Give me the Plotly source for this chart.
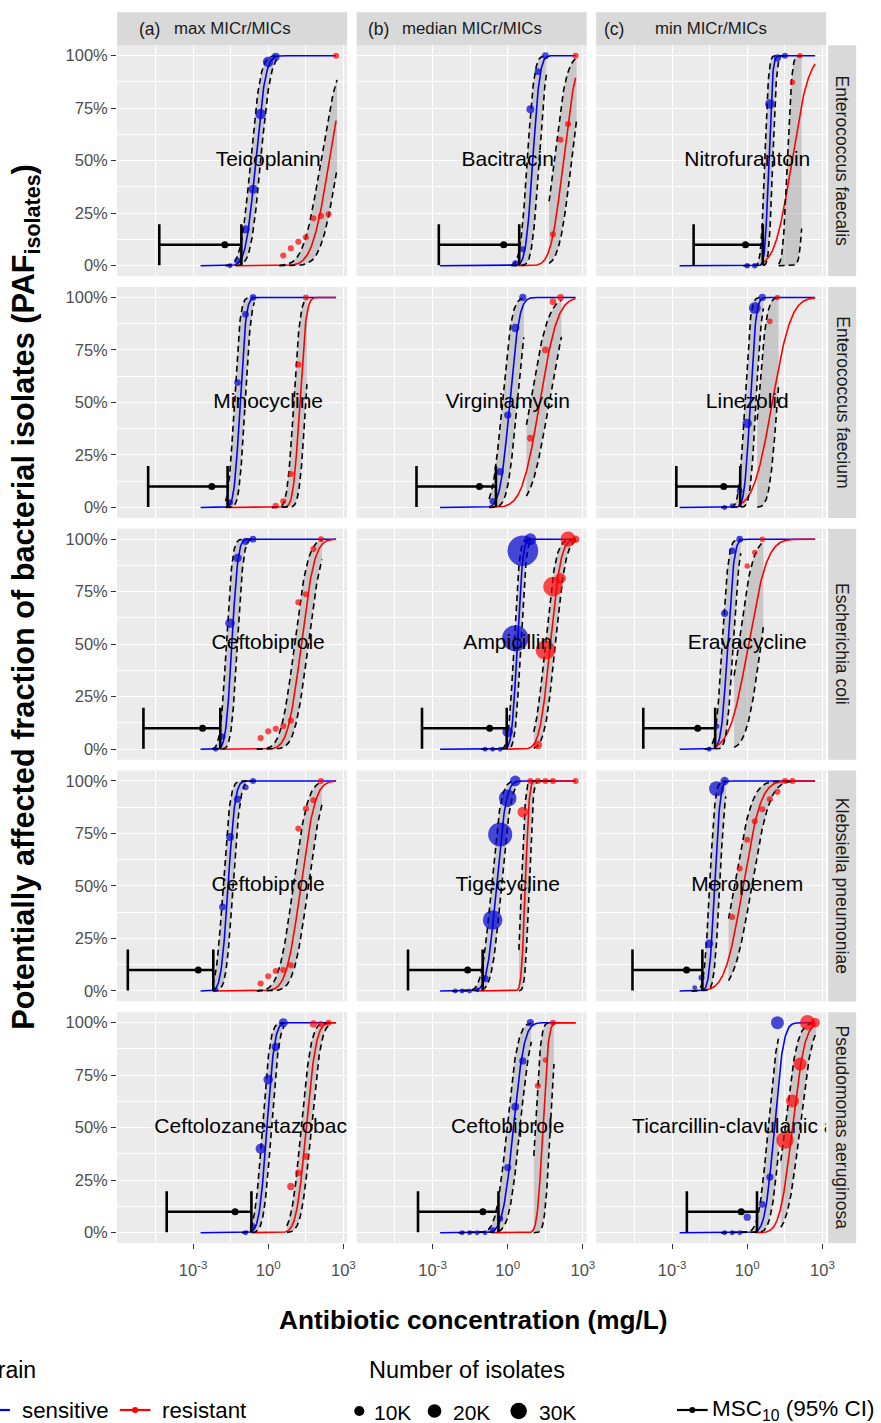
import math
import numpy as np
import plotly.graph_objects as go

W, H = 881, 1423

# ---------------- data ----------------
COL_TAGS = ["(a)", "(b)", "(c)"]
COL_TITLES = ["max MICr/MICs", "median MICr/MICs", "min MICr/MICs"]
SPECIES = ["Enterococcus faecalis", "Enterococcus faecium", "Escherichia coli",
           "Klebsiella pneumoniae", "Pseudomonas aeruginosa"]
DRUGS = ["Teicoplanin", "Bacitracin", "Nitrofurantoin",
         "Minocycline", "Virginiamycin", "Linezolid",
         "Ceftobiprole", "Ampicillin", "Eravacycline",
         "Ceftobiprole", "Tigecycline", "Meropenem",
         "Ceftolozane-tazobactam", "Ceftobiprole", "Ticarcillin-clavulanic acid"]

# MSC10 with 95% CI (mg/L)
MSC10_LO = [4.5e-5, 0.00178, 0.00724, 1.62e-5, 2.29e-4, 0.00148, 1.05e-5, 3.8e-4, 7.1e-5,
            2.5e-6, 1.05e-4, 2.63e-5, 8.9e-5, 2.63e-4, 0.00389]
MSC10 = [0.0186, 0.692, 0.851, 0.00562, 0.0741, 0.115, 0.0024, 0.19, 0.0105,
         0.00162, 0.0251, 0.0038, 0.0479, 0.102, 0.575]
MSC10_HI = [0.0851, 2.88, 4.17, 0.024, 0.339, 0.525, 0.0123, 0.912, 0.0525,
            0.00646, 0.1, 0.0162, 0.214, 0.427, 2.45]

# sensitive strains: observed MIC (mg/L), cumulative fraction, isolates (thousands)
S_MIC = [[0.03, 0.06, 0.125, 0.25, 0.5, 1, 2], [2, 4, 8, 16, 32], [1, 2, 8, 16, 32],
         [0.03, 0.06, 0.125, 0.25], [0.25, 0.5, 1, 2, 4], [0.125, 0.25, 0.5, 1, 2, 4],
         [0.008, 0.015, 0.03, 0.06, 0.125, 0.25], [0.125, 0.25, 0.5, 1, 2, 4, 8],
         [0.03, 0.06, 0.125, 0.25, 0.5],
         [0.008, 0.015, 0.03, 0.06, 0.125, 0.25],
         [0.008, 0.015, 0.03, 0.06, 0.125, 0.25, 0.5, 1, 2],
         [0.008, 0.015, 0.03, 0.06, 0.125],
         [0.125, 0.25, 0.5, 1, 2, 4], [0.015, 0.03, 0.06, 0.125, 0.25, 0.5, 1, 2, 4, 8],
         [0.125, 0.25, 0.5, 1, 4, 8, 16]]
S_PAF = [[0, 0.024, 0.173, 0.364, 0.722, 0.971, 0.995], [0.011, 0.078, 0.745, 0.924, 1.0],
         [0, 0, 0.77, 0.99, 1.0], [0.024, 0.595, 0.92, 1.0], [0.03, 0.17, 0.44, 0.855, 1.0],
         [0, 0.008, 0.078, 0.40, 0.95, 1.0], [0, 0.06, 0.60, 0.91, 0.99, 1.0],
         [0, 0, 0, 0.083, 0.528, 0.945, 1.0], [0, 0.109, 0.647, 0.945, 1.0],
         [0.006, 0.40, 0.733, 0.913, 0.97, 1.0], [0, 0, 0, 0.006, 0.059, 0.338, 0.745, 0.918, 1.0],
         [0.016, 0.063, 0.225, 0.963, 1.0], [0, 0.03, 0.40, 0.729, 0.884, 1.0],
         [0, 0, 0, 0, 0.014, 0.067, 0.31, 0.60, 0.818, 1.0], [0, 0, 0, 0.074, 0.135, 0.265, 1.0]]
S_N = [[0.7, 2.3, 6.3, 7.5, 11.4, 11.4, 5.2], [2.3, 2.3, 5.2, 3.2, 3.2], [1.5, 1.5, 8.7, 4.1, 2.3],
       [2.3, 3.2, 3.2, 3.2], [2.3, 4.1, 4.1, 6.3, 4.1], [0.7, 0.7, 2.3, 8.7, 14.4, 4.1],
       [0.7, 2.3, 8.7, 6.3, 4.1, 3.2], [0.7, 0.7, 0.7, 11.4, 79, 109, 14.4],
       [0.7, 1.5, 4.1, 3.2, 3.2], [0.7, 3.2, 5.2, 4.1, 2.3, 2.3],
       [0.7, 0.7, 0.7, 0.7, 4.1, 43, 66, 34, 11.4], [0.7, 2.3, 6.3, 25, 6.3],
       [0.7, 2.3, 10, 8.7, 6.3, 7.5], [0.7, 0.7, 0.7, 0.7, 1.5, 2.3, 4.1, 5.2, 4.1, 4.1],
       [0.7, 0.7, 0.7, 4.1, 3.2, 4.1, 17.7]]

# resistant strains
R_MIC = [[4, 8, 16, 32, 64, 128, 256, 512], [64, 128, 256, 512], [64, 128],
         [2, 4, 8, 16, 32], [8, 32, 64, 128], [8, 16],
         [0.5, 1, 2, 4, 8, 16, 32, 64, 128], [16, 32, 64, 128, 256, 512], [1, 2, 4],
         [0.5, 1, 2, 4, 8, 16, 32, 64, 128], [4, 8, 16, 32, 64, 512],
         [0.25, 0.5, 1, 2, 4, 8, 16, 32, 64],
         [8, 16, 32, 64, 128, 256], [16, 32, 64], [32, 64, 128, 256, 512]]
R_PAF = [[0.048, 0.083, 0.114, 0.135, 0.226, 0.237, 0.245, 1.0], [0.15, 0.60, 0.675, 1.0],
         [0.873, 1.0], [0.008, 0.029, 0.159, 0.68, 1.0], [0.33, 0.75, 0.98, 1.0], [0.886, 1.0],
         [0.053, 0.085, 0.097, 0.11, 0.136, 0.70, 0.738, 0.953, 1.0],
         [0.02, 0.472, 0.774, 0.814, 1.0, 1.0], [0.872, 0.937, 1.0],
         [0.035, 0.07, 0.095, 0.10, 0.122, 0.773, 0.868, 0.908, 1.0],
         [0.852, 1, 1, 1, 1, 1], [0.352, 0.583, 0.72, 0.808, 0.865, 0.913, 0.948, 1.0, 1.0],
         [0.22, 0.285, 0.363, 0.994, 0.994, 1.0], [0.70, 0.822, 1.0], [0.441, 0.627, 0.803, 1.0, 1.0]]
R_N = [[2.3] * 8, [2.3] * 4, [1.5] * 2, [2.3] * 5, [3.2] * 4, [1.5] * 2, [2.3] * 9,
       [6.3, 43, 43, 11.4, 25, 4.1], [1.5] * 3, [2.3] * 9, [11.4, 2.3, 2.3, 2.3, 2.3, 2.3],
       [2.3] * 9, [4.1, 3.2, 3.2, 4.1, 2.3, 2.3], [2.3, 1.5, 2.3], [33.7, 17.7, 17.7, 25, 8.7]]

# fitted log-normal distributions (log10 median, log10 sd) and CI bounds (log10 medians)
S_MU = [-0.50, 1.0, 0.86, -1.12, 0.08, 0.12, -1.45, 0.38, -0.78, -1.6, -0.45, -1.3, -0.05, 0.23, 1.08]
S_SD = [0.31, 0.22, 0.12, 0.185, 0.30, 0.18, 0.19, 0.17, 0.20, 0.22, 0.30, 0.17, 0.24, 0.34, 0.29]
S_CI_LO = [-0.70, 0.78, 0.70, -1.35, -0.22, -0.10, -1.67, 0.25, -1.0, -1.8, -0.65, -1.5, -0.23, -0.03, 0.83]
S_CI_HI = [-0.30, 1.25, 1.02, -0.92, 0.38, 0.35, -1.23, 0.52, -0.56, -1.4, -0.25, -1.1, 0.13, 0.49, 1.33]
R_MU = [2.44, 2.22, 1.78, 1.26, 1.28, 1.0, 1.32, 1.70, 0.05, 1.3, 0.7, -0.17, 1.52, 1.4, 1.8]
R_SD = [0.54, 0.39, 0.53, 0.20, 0.56, 0.59, 0.42, 0.33, 0.59, 0.45, 0.12, 0.56, 0.31, 0.17, 0.39]
R_CI_LO = [2.1, 1.85, 1.6, 1.02, 0.9, 0.45, 1.05, 1.5, -0.35, 1.0, 0.55, -0.52, 1.32, 1.1, 1.5]
R_CI_HI = [2.8, 2.55, 2.3, 1.5, 1.65, 1.2, 1.6, 1.9, 0.55, 1.6, 0.85, 0.18, 1.72, 1.7, 2.1]
# CI band sd and range (mg/L)
S_CI_SD = S_SD
R_CI_SD = [0.54, 0.39, 0.14, 0.20, 0.56, 0.25, 0.42, 0.33, 0.45, 0.45, 0.12, 0.56, 0.31, 0.17, 0.39]
S_CI_FROM = [0.02, 1.4, 0.7, 0.02, 0.18, 0.09, 0.006, 0.09, 0.02, 0.006, 0.006, 0.006, 0.09, 0.011, 0.09]
S_CI_TO = [2.2, 35, 35, 0.28, 4.4, 4.4, 0.28, 8.8, 0.55, 0.28, 2.2, 0.14, 4.4, 8.8, 17.6]
R_CI_FROM = [2.8, 45, 18, 1.4, 5.6, 2.5, 0.35, 11, 0.3, 0.35, 2.8, 0.18, 5.6, 11, 22]
R_CI_TO = [560, 560, 148, 35, 140, 17.6, 140, 560, 4.4, 140, 70, 70, 280, 70, 560]

CURVE_TO = 512                     # upper end of fitted curves (mg/L)
S_CURVE_FROM = 0.002               # lower end of the sensitive curves (mg/L)
X_TICKS = [1e-3, 1, 1e3]
X_TICKTEXT = ["10<sup>-3</sup>", "10<sup>0</sup>", "10<sup>3</sup>"]
X_MINOR = [10 ** -4.5, 10 ** -1.5, 10 ** 1.5]
Y_TICKS = [0, 0.25, 0.5, 0.75, 1]
Y_TICKTEXT = ["0%", "25%", "50%", "75%", "100%"]
LEGEND_SIZES = [10, 20, 30]
LEGEND_SIZE_TEXT = ["10K", "20K", "30K"]

# ---------------- styling ----------------
FONT = "Liberation Sans, Arial, sans-serif"
BLUE_LINE, BLUE_PT = "#0000FF", "#0000CD"
RED_LINE, RED_PT = "#FF0000", "#FF0000"
BAND = "rgba(150,150,150,0.42)"


def size_px(n):
    return math.sqrt(18 + 8.5 * n)


def ncdf(x, mu, sd):
    return np.array([0.5 * (1 + math.erf((math.log10(v) - mu) / (sd * math.sqrt(2)))) for v in x])


PX_COL0, COL_STEP, COL_W = 118.3, 242.0, 232.4
PX_ROW0, ROW_STEP, ROW_H = 45.2, 241.75, 231.0


def px2x(p):
    return p / W


def px2y(p):
    return 1 - p / H


fig = go.Figure()
layout = dict(width=W, height=H, margin=dict(l=0, r=0, t=0, b=0), paper_bgcolor="white",
              plot_bgcolor="#EBEBEB", showlegend=False, font=dict(family=FONT, color="black"))
shapes, annotations = [], []

for r in range(5):
    for c in range(3):
        i = r * 3 + c
        k = i + 1
        xs = "x" if k == 1 else f"x{k}"
        ys = "y" if k == 1 else f"y{k}"
        xl = PX_COL0 + COL_STEP * c
        yt = PX_ROW0 + ROW_STEP * r
        layout["xaxis" if k == 1 else f"xaxis{k}"] = dict(
            domain=[px2x(xl), px2x(xl + COL_W)], anchor=ys, type="log", range=[-6.03, 3.15],
            tickmode="array", tickvals=X_TICKS, ticktext=X_TICKTEXT, showticklabels=(r == 4),
            ticks="outside" if r == 4 else "", ticklen=5, tickwidth=1.1, tickcolor="#333333",
            ticklabelstandoff=7,
            tickfont=dict(size=16.5, color="#4D4D4D", family=FONT),
            showgrid=True, gridcolor="white", gridwidth=1.1, zeroline=False, showline=False,
            minor=dict(tickmode="array", tickvals=X_MINOR, showgrid=True, gridcolor="white",
                       gridwidth=0.55, ticks=""))
        layout["yaxis" if k == 1 else f"yaxis{k}"] = dict(
            domain=[px2y(yt + ROW_H), px2y(yt)], anchor=xs, range=[-0.05, 1.05],
            tickmode="array", tickvals=Y_TICKS, ticktext=Y_TICKTEXT, showticklabels=(c == 0),
            ticks="outside" if c == 0 else "", ticklen=5, tickwidth=1.1, tickcolor="#333333",
            tickfont=dict(size=16.5, color="#4D4D4D", family=FONT),
            showgrid=True, gridcolor="white", gridwidth=1.1, zeroline=False, showline=False,
            minor=dict(tickmode="array", tickvals=[0.125, 0.375, 0.625, 0.875], showgrid=True,
                       gridcolor="white", gridwidth=0.55, ticks=""))

        # curve ranges: sensitive from S_CURVE_FROM, resistant from where sensitive starts rising
        r_from = 10 ** (S_MU[i] - 2.6 * S_SD[i])
        strains = [
            (S_MIC[i], S_PAF[i], S_N[i], S_MU[i], S_SD[i], S_CI_LO[i], S_CI_HI[i], S_CI_SD[i],
             S_CI_FROM[i], S_CI_TO[i], S_CURVE_FROM, BLUE_LINE, BLUE_PT),
            (R_MIC[i], R_PAF[i], R_N[i], R_MU[i], R_SD[i], R_CI_LO[i], R_CI_HI[i], R_CI_SD[i],
             R_CI_FROM[i], R_CI_TO[i], r_from, RED_LINE, RED_PT),
        ]
        ci_data = []
        for mic, paf, n, mu, sd, clo, chi, csd, cfrom, cto, cf, lc, pc in strains:
            xc = np.logspace(math.log10(cfrom), math.log10(cto), 150)
            upper = ncdf(xc, clo, csd)
            lower = ncdf(xc, chi, csd)
            ci_data.append((xc, upper, lower))
            fig.add_trace(go.Scatter(x=np.concatenate([xc, xc[::-1]]),
                                     y=np.concatenate([upper, lower[::-1]]),
                                     fill="toself", fillcolor=BAND, line=dict(width=0),
                                     mode="lines", hoverinfo="skip", xaxis=xs, yaxis=ys))
        for mic, paf, n, mu, sd, clo, chi, csd, cfrom, cto, cf, lc, pc in strains:
            xg = np.logspace(math.log10(cf), math.log10(CURVE_TO), 300)
            fig.add_trace(go.Scatter(x=xg, y=ncdf(xg, mu, sd), mode="lines",
                                     line=dict(color=lc, width=1.6), xaxis=xs, yaxis=ys))
        for xc, upper, lower in ci_data:
            for yy in (upper, lower):
                fig.add_trace(go.Scatter(x=xc, y=yy, mode="lines",
                                         line=dict(color="black", width=1.6, dash="6px,4px"),
                                         xaxis=xs, yaxis=ys))
        for mic, paf, n, mu, sd, clo, chi, csd, cfrom, cto, cf, lc, pc in strains:
            fig.add_trace(go.Scatter(x=mic, y=paf, mode="markers",
                                     marker=dict(color=pc, size=[size_px(v) for v in n], line=dict(width=0)),
                                     xaxis=xs, yaxis=ys))
        fig.add_trace(go.Scatter(x=[MSC10[i]], y=[0.1], mode="markers",
                                 marker=dict(color="black", size=7),
                                 error_x=dict(type="data", symmetric=False,
                                              array=[MSC10_HI[i] - MSC10[i]],
                                              arrayminus=[MSC10[i] - MSC10_LO[i]],
                                              color="black", thickness=2.6, width=20.5),
                                 xaxis=xs, yaxis=ys))
        fig.add_trace(go.Scatter(x=[1], y=[0.5], mode="text", text=[DRUGS[i]],
                                 textposition="middle center", cliponaxis=True,
                                 textfont=dict(size=21, color="black", family=FONT),
                                 xaxis=xs, yaxis=ys))

# strips
for c in range(3):
    xl = PX_COL0 + COL_STEP * c
    shapes.append(dict(type="rect", xref="paper", yref="paper", x0=px2x(xl), x1=px2x(xl + COL_W),
                       y0=px2y(45.2), y1=px2y(12.3), fillcolor="#D9D9D9", line=dict(width=0), layer="below"))
    annotations.append(dict(xref="paper", yref="paper", x=px2x(xl + COL_W / 2), y=px2y(28.7),
                            text=COL_TITLES[c], showarrow=False, xanchor="center", yanchor="middle",
                            font=dict(size=16.8, color="#1A1A1A", family=FONT)))
tag_px = [138, 370, 608]
for c in range(3):
    annotations.append(dict(xref="paper", yref="paper", x=px2x(tag_px[c]), y=px2y(28.7),
                            text=COL_TAGS[c], showarrow=False, xanchor="left", yanchor="middle",
                            font=dict(size=17.5, color="#1A1A1A", family=FONT)))
for r in range(5):
    yt = PX_ROW0 + ROW_STEP * r
    shapes.append(dict(type="rect", xref="paper", yref="paper", x0=px2x(836.7), x1=px2x(865),
                       y0=px2y(yt + ROW_H), y1=px2y(yt), fillcolor="#D9D9D9", line=dict(width=0), layer="below"))
    annotations.append(dict(xref="paper", yref="paper", x=px2x(850.8), y=px2y(yt + ROW_H / 2),
                            text=SPECIES[r], showarrow=False, textangle=90, xanchor="center", yanchor="middle",
                            font=dict(size=17.5, color="#1A1A1A", family=FONT)))

# axis titles
annotations.append(dict(xref="paper", yref="paper", x=px2x(478), y=px2y(1320),
                        text="<b>Antibiotic concentration (mg/L)</b>", showarrow=False,
                        xanchor="center", yanchor="middle", font=dict(size=26.2, color="black", family=FONT)))
annotations.append(dict(xref="paper", yref="paper", x=px2x(25), y=px2y(597),
                        text="<b>Potentially affected fraction of bacterial isolates (PAF<sub>isolates</sub>)</b>",
                        showarrow=False, textangle=-90, xanchor="center", yanchor="middle",
                        font=dict(size=30.7, color="black", family=FONT)))

# legend glyphs (paper-anchored, pixel-sized)
LEG_Y = 1410


def hline(x0, x1, y, color, w=2.2):
    shapes.append(dict(type="line", xref="paper", yref="paper", x0=px2x(x0), x1=px2x(x1),
                       y0=px2y(y), y1=px2y(y), line=dict(color=color, width=w)))


def dot(cx, cy, d, color):
    rr = d / 2
    shapes.append(dict(type="circle", xref="paper", yref="paper", xsizemode="pixel", ysizemode="pixel",
                       xanchor=px2x(cx), yanchor=px2y(cy), x0=-rr, x1=rr, y0=-rr, y1=rr,
                       fillcolor=color, line=dict(width=0)))


hline(-22, 10, LEG_Y, BLUE_LINE)
hline(121, 152, LEG_Y, RED_LINE)
dot(136.5, LEG_Y, 6, RED_PT)
for cx, v in zip([363, 439, 524], LEGEND_SIZES):
    dot(cx, LEG_Y + 1, size_px(v), "black")
hline(684, 715, LEG_Y, "black")
dot(699.5, LEG_Y, 6, "black")


def leg_text(x, y, t, size=20, anchor="left"):
    annotations.append(dict(xref="paper", yref="paper", x=px2x(x), y=px2y(y), text=t, showarrow=False,
                            xanchor=anchor, yanchor="middle", font=dict(size=size, color="black", family=FONT)))


leg_text(38, 1370, "Strain", 23, "right")
leg_text(20, LEG_Y, "sensitive", 22.3)
leg_text(162, LEG_Y, "resistant", 22.3)
leg_text(472, 1370, "Number of isolates", 23.5, "center")
for x, t in zip([376, 456, 543], LEGEND_SIZE_TEXT):
    leg_text(x, LEG_Y + 2, t, 21)
leg_text(717, LEG_Y, "MSC<sub>10</sub> (95% CI)", 22.5)

layout["shapes"] = shapes
layout["annotations"] = annotations
fig.update_layout(**layout)
fig.write_html("out.html", config={"displayModeBar": False},
               post_script="document.body.style.margin='0px';document.body.style.overflow='hidden';")
